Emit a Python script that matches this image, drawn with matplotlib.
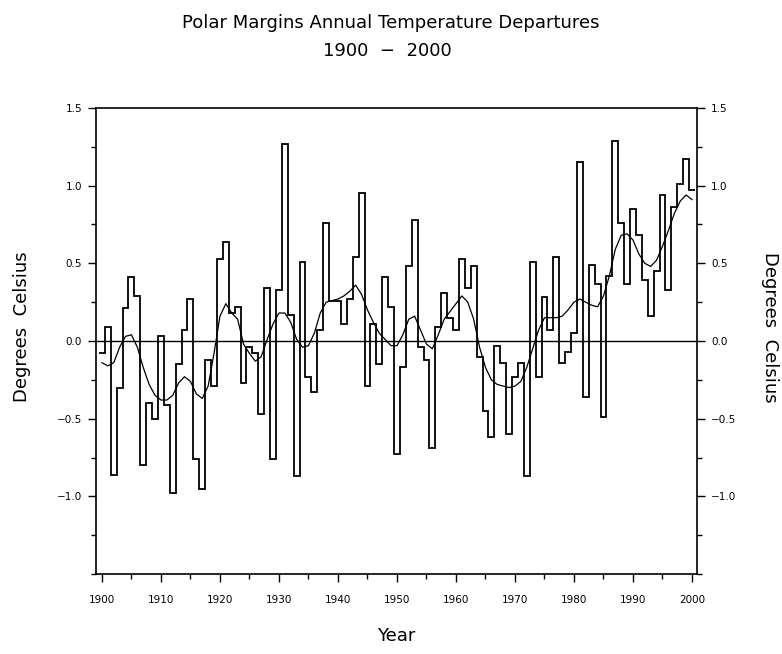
import numpy as np
import matplotlib
matplotlib.use("Agg")
import matplotlib.pyplot as plt
from matplotlib.ticker import MultipleLocator, FixedLocator

# annual departures (deg C), one value per year 1900-2000
years = np.arange(1900, 2001)
departures = [
    -0.08, 0.09, -0.86, -0.30, 0.21, 0.41, 0.29, -0.80, -0.40, -0.50,   # 1900s
    0.03, -0.41, -0.98, -0.15, 0.07, 0.27, -0.76, -0.95, -0.12, -0.29,  # 1910s
    0.53, 0.64, 0.18, 0.22, -0.27, -0.04, -0.08, -0.47, 0.34, -0.76,    # 1920s
    0.33, 1.27, 0.17, -0.87, 0.51, -0.23, -0.33, 0.07, 0.76, 0.26,      # 1930s
    0.26, 0.11, 0.27, 0.54, 0.95, -0.29, 0.11, -0.15, 0.41, 0.22,       # 1940s
    -0.73, -0.17, 0.48, 0.78, -0.04, -0.12, -0.69, 0.09, 0.31, 0.15,    # 1950s
    0.07, 0.53, 0.34, 0.48, -0.10, -0.45, -0.62, -0.03, -0.14, -0.60,   # 1960s
    -0.23, -0.14, -0.87, 0.51, -0.23, 0.28, 0.07, 0.54, -0.14, -0.07,   # 1970s
    0.05, 1.15, -0.36, 0.49, 0.37, -0.49, 0.42, 1.29, 0.76, 0.37,       # 1980s
    0.85, 0.68, 0.39, 0.16, 0.45, 0.94, 0.33, 0.86, 1.01, 1.17,         # 1990s
    0.97,                                                               # 2000
]

# smoothed series
smoothed = [
    -0.14, -0.16, -0.14, -0.04, 0.03, 0.04, -0.04, -0.17, -0.28, -0.35,
    -0.38, -0.38, -0.35, -0.27, -0.23, -0.26, -0.34, -0.37, -0.29, -0.08,
    0.16, 0.24, 0.18, 0.14, -0.02, -0.08, -0.13, -0.10, 0.01, 0.11,
    0.18, 0.18, 0.12, 0.01, -0.04, -0.03, 0.05, 0.18, 0.25, 0.26,
    0.27, 0.29, 0.32, 0.36, 0.30, 0.20, 0.12, 0.05, 0.01, -0.03,
    -0.03, 0.04, 0.14, 0.16, 0.07, -0.02, -0.05, 0.04, 0.14, 0.19,
    0.24, 0.29, 0.25, 0.14, -0.04, -0.17, -0.25, -0.28, -0.29, -0.30,
    -0.29, -0.26, -0.17, -0.05, 0.07, 0.15, 0.15, 0.15, 0.16, 0.20,
    0.25, 0.27, 0.25, 0.23, 0.22, 0.29, 0.42, 0.59, 0.68, 0.69,
    0.65, 0.56, 0.50, 0.48, 0.52, 0.61, 0.71, 0.82, 0.90, 0.94,
    0.91,
]

ytick_vals = [-1.0, -0.5, 0.0, 0.5, 1.0, 1.5]
ytick_text = ["\u22121.0", "\u22120.5", "0.0", "0.5", "1.0", "1.5"]

plt.rcParams["font.family"] = ["DejaVu Sans"]

fig = plt.figure(figsize=(7.82, 6.54), dpi=100)
ax = fig.add_axes([0.1228, 0.1223, 0.7685, 0.7126])

edges = np.append(years - 0.5, years[-1] + 0.5)
ax.stairs(departures, edges, baseline=None, color="black", linewidth=1.3)
ax.plot(years, smoothed, color="black", linewidth=0.9)
ax.axhline(0.0, color="black", linewidth=1.0)

ax.set_xlim(1899, 2000.85)
ax.set_ylim(-1.5, 1.5)

ax.xaxis.set_major_locator(MultipleLocator(10))
ax.xaxis.set_minor_locator(MultipleLocator(5))
ax.yaxis.set_major_locator(FixedLocator(ytick_vals))
ax.yaxis.set_minor_locator(MultipleLocator(0.25))
ax.set_yticklabels(ytick_text)

ax.tick_params(axis="both", which="major", direction="out", length=6,
               width=1.0, labelsize=7.5, pad=4)
ax.tick_params(axis="x", which="major", pad=9)
ax.tick_params(axis="both", which="minor", direction="out", length=3.5,
               width=1.0)
ax.tick_params(axis="y", which="both", left=True, right=True,
               labelleft=True, labelright=True)
ax.tick_params(axis="x", which="both", top=False)

for side in ax.spines.values():
    side.set_linewidth(1.2)

ax.set_xlabel("Year", fontsize=13, labelpad=16)
ax.text(-0.123, 0.53, "Degrees  Celsius", transform=ax.transAxes,
        fontsize=13, rotation=90, ha="center", va="center")
ax.text(1.122, 0.53, "Degrees  Celsius", transform=ax.transAxes,
        fontsize=13, rotation=270, ha="center", va="center")

fig.text(0.5, 0.965, "Polar Margins Annual Temperature Departures",
         ha="center", va="center", fontsize=13)
fig.text(0.495, 0.922, "1900  \u2212  2000", ha="center", va="center",
         fontsize=13)

fig.savefig("out.png", dpi=100)
